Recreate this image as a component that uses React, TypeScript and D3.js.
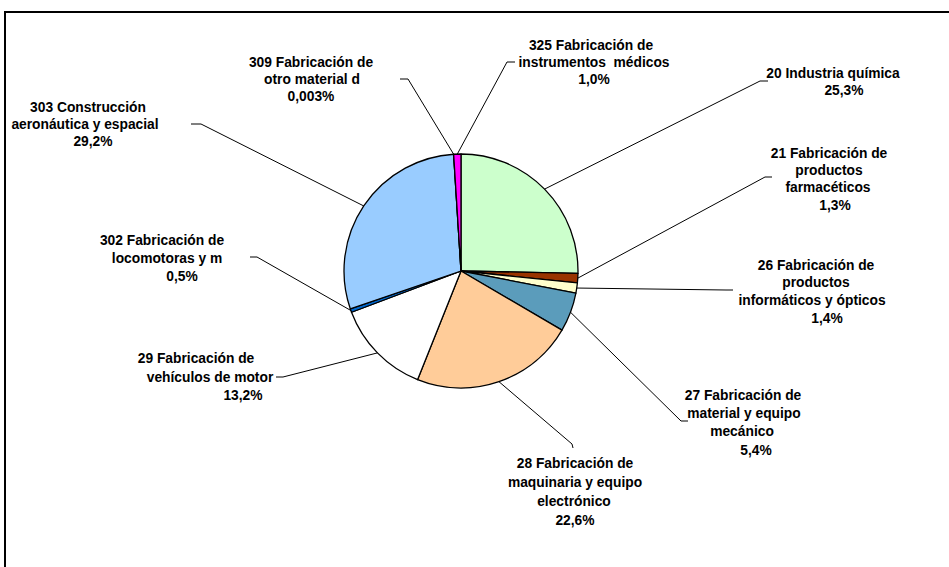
import React from "react";
import * as d3 from "d3";

const categories = [
  "20 Industria química",
  "21 Fabricación de productos farmacéticos",
  "26 Fabricación de productos informáticos y ópticos",
  "27 Fabricación de material y equipo mecánico",
  "28 Fabricación de maquinaria y equipo electrónico",
  "29 Fabricación de vehículos de motor",
  "302 Fabricación de locomotoras y m",
  "303 Construcción aeronáutica y espacial",
  "309 Fabricación de otro material d",
  "325 Fabricación de instrumentos  médicos",
];
const values = [25.3, 1.3, 1.4, 5.4, 22.6, 13.2, 0.5, 29.2, 0.003, 1.0];
const valueLabels = ["25,3%", "1,3%", "1,4%", "5,4%", "22,6%", "13,2%", "0,5%", "29,2%", "0,003%", "1,0%"];
const labelLines = [
  ["20 Industria química", "25,3%"],
  ["21 Fabricación de", "productos", "farmacéticos", "1,3%"],
  ["26 Fabricación de", "productos", "informáticos y ópticos", "1,4%"],
  ["27 Fabricación de", "material y equipo", "mecánico", "5,4%"],
  ["28 Fabricación de", "maquinaria y equipo", "electrónico", "22,6%"],
  ["29 Fabricación de", "vehículos de motor", "13,2%"],
  ["302 Fabricación de", "locomotoras y m", "0,5%"],
  ["303 Construcción", "aeronáutica y espacial", "29,2%"],
  ["309 Fabricación de", "otro material d", "0,003%"],
  ["325 Fabricación de", "instrumentos  médicos", "1,0%"],
];

// layout (positions / styles)
const colors = ["#CCFFCC", "#993300", "#FFFFCC", "#5B9CBB", "#FFCC99", "#FFFFFF", "#0066CC", "#99CCFF", "#CC99FF", "#FF00FF"];
const CX = 461, CY = 271, R = 117;
const labelLayout = [
  { xs: [833, 844], ys: [73, 90], corner: [760, 81], end: [768, 81] },
  { xs: [829, 829, 828, 835], ys: [153, 170, 187, 205], corner: [765, 177], end: [772, 177] },
  { xs: [816, 816, 812, 827], ys: [265, 282, 300, 318], corner: [726, 290], end: [733, 290] },
  { xs: [743, 744, 742, 756], ys: [395, 413, 431, 450], corner: [681, 421], end: [688, 421] },
  { xs: [575, 575, 574, 575], ys: [463, 482, 501, 520], corner: [572, 444], end: [573, 448] },
  { xs: [196, 210, 243], ys: [358, 377, 395], corner: [283, 377], end: [276, 377] },
  { xs: [162, 167, 182], ys: [240, 258, 276], corner: [257, 257], end: [250, 257] },
  { xs: [88, 85, 93], ys: [107, 124, 141], corner: [201, 124], end: [191, 124] },
  { xs: [311, 312, 311], ys: [62, 79, 96], corner: [408, 79], end: [400, 79] },
  { xs: [591, 594, 594], ys: [45, 62, 79], corner: [507, 62], end: [515, 62] },
];

export default function App() {
  const data = categories.map((c, i) => ({ c, v: values[i], l: valueLabels[i], i }));
  const pie = d3.pie<any>().sort(null).value((d) => d.v).startAngle(0).endAngle(2 * Math.PI);
  const arcs = pie(data);
  const arc = d3.arc<any>().innerRadius(0).outerRadius(R);
  const edge = d3.arc<any>().innerRadius(R).outerRadius(R);

  return (
    <svg
      width={949}
      height={567}
      style={{ position: "absolute", left: 0, top: 0, background: "#fff" }}
      fontFamily="'Liberation Sans', Arial, sans-serif"
    >
      <rect x={0} y={0} width={949} height={567} fill="#fff" />
      <rect x={5} y={12} width={1000} height={700} fill="none" stroke="#000" strokeWidth={2} />
      <g transform={`translate(${CX},${CY})`}>
        {arcs.map((a, i) => (
          <path key={i} d={arc(a) as string} fill={colors[i]} stroke="#000" strokeWidth={1.3} strokeLinejoin="round" />
        ))}
      </g>
      {arcs.map((a, i) => {
        const [ex, ey] = edge.centroid(a);
        const L = labelLayout[i];
        return (
          <polyline
            key={"l" + i}
            points={`${CX + ex},${CY + ey} ${L.corner[0]},${L.corner[1]} ${L.end[0]},${L.end[1]}`}
            fill="none"
            stroke="#000"
            strokeWidth={1}
          />
        );
      })}
      {labelLines.map((lines, i) => {
        const L = labelLayout[i];
        return (
          <text key={"t" + i} fontSize={13.8} fontWeight="bold" textAnchor="middle" fill="#000">
            {lines.map((ln, j) => (
              <tspan key={j} x={L.xs[j]} y={L.ys[j]} dy="0.35em" style={{ whiteSpace: "pre" }}>
                {ln}
              </tspan>
            ))}
          </text>
        );
      })}
    </svg>
  );
}
